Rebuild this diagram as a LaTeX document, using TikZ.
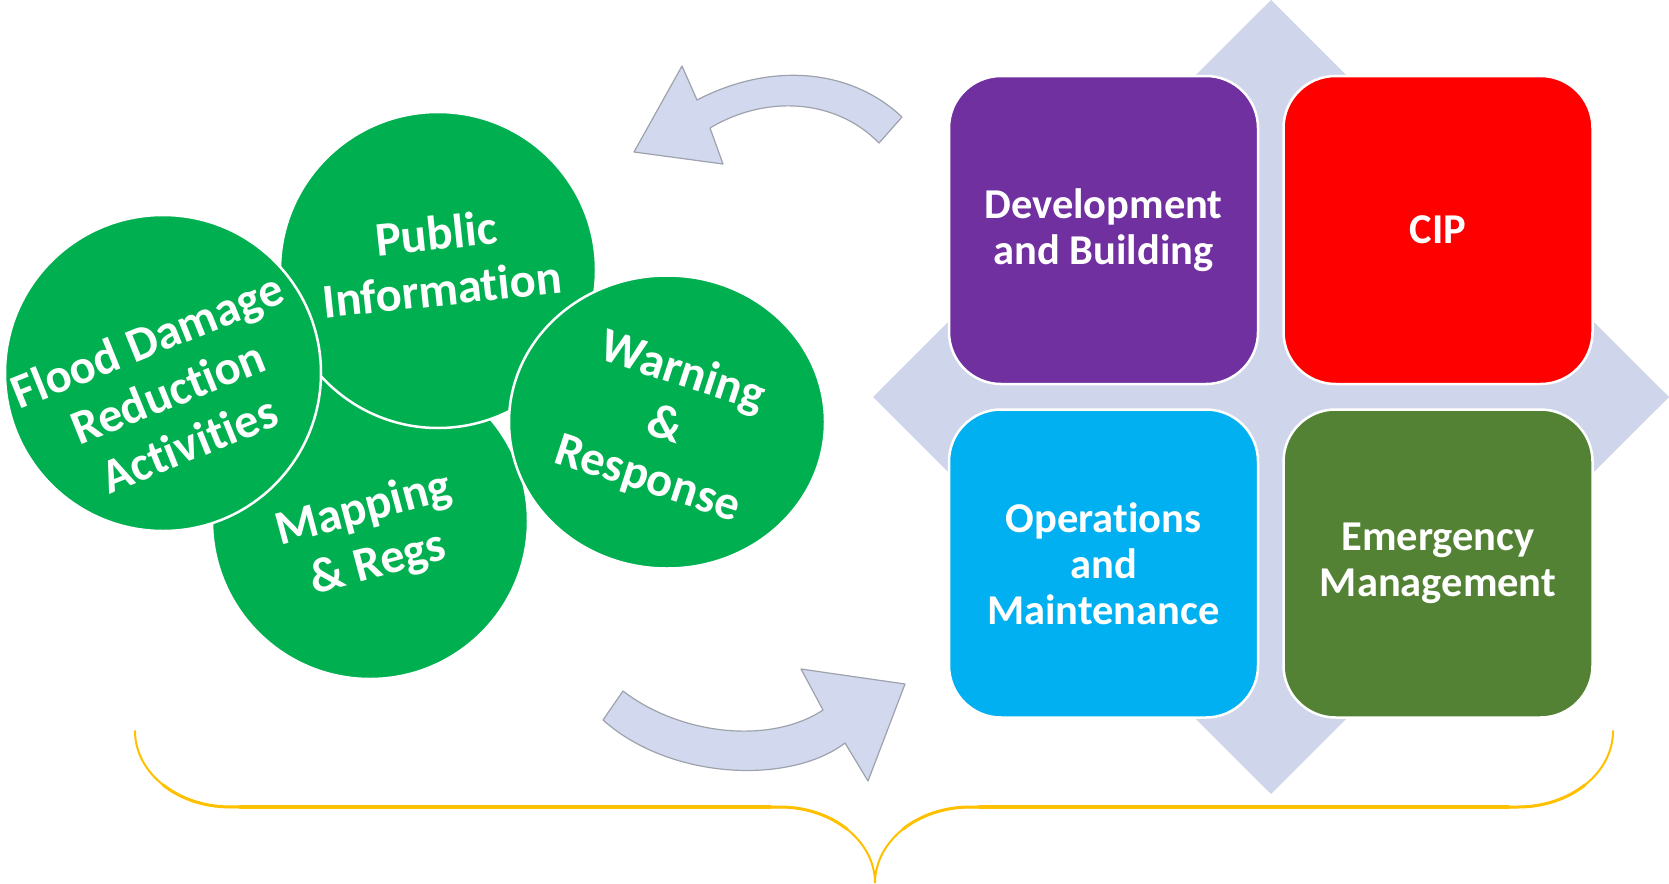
\documentclass[tikz,border=0pt]{standalone}
\usepackage{fontspec}
\setmainfont[Ligatures={NoCommon}]{Carlito}
\usetikzlibrary{shapes.geometric}
\definecolor{cgreen}{HTML}{00B050}
\definecolor{cpurple}{HTML}{7030A0}
\definecolor{cred}{HTML}{FF0000}
\definecolor{cblue}{HTML}{00B0F0}
\definecolor{egreen}{HTML}{548235}
\definecolor{gold}{HTML}{FFC000}
\definecolor{diamondc}{HTML}{CFD5EA}
\definecolor{arrowc}{HTML}{D2D9EE}
\definecolor{arrowline}{HTML}{9DA2AC}
\begin{document}
\begin{tikzpicture}[x=1pt,y=1pt,
  circ/.style={circle, fill=cgreen, draw=white, line width=2.5pt, minimum size=316pt, inner sep=0pt, outer sep=0pt},
  ctext/.style={text=white, font=\fontsize{48.5}{56}\selectfont\bfseries, align=center, inner sep=0pt},
  box/.style={draw=white, line width=2.5pt, rounded corners=52pt, minimum width=309pt, minimum height=308pt, inner sep=0pt, text=white, font=\fontsize{42.5}{46}\selectfont\bfseries, align=center},
  blockarrow/.style={fill=arrowc, draw=arrowline, line width=1.2pt, line join=round},
  brace/.style={draw=gold, line cap=round}
]
\useasboundingbox (0,0) rectangle (1669,-883);

% circles (left cluster)
\node[circ] (map) at (370,-521) {};
\node[ctext, rotate=15] (maptext) at (371,-537) {Mapping\\\& Regs};
\node[circ] (pub) at (438,-270) {};
\node[ctext, rotate=6] (pubtext) at (439,-261) {Public\\Information};
\node[circ] (flood) at (163,-373) {};
\node[ctext, rotate=22] (floodtext) at (168,-392) {Flood Damage\\Reduction\\Activities};
\node[ellipse, fill=cgreen, draw=white, line width=2.5pt, minimum width=316pt, minimum height=293pt, inner sep=0pt] (warn) at (667,-422) {};
\node[ctext, rotate=-18] (warntext) at (665,-426) {Warning\\\&\\Response};

% curved block arrows
\path[blockarrow] (634,-152) -- (682,-66) -- (697,-100)
  .. controls (770,-62) and (850,-68) .. (902,-117)
  -- (879,-143)
  .. controls (835,-98) and (765,-95) .. (710,-128)
  -- (723,-164) -- cycle;
\path[blockarrow] (623,-691)
  .. controls (680,-735) and (770,-745) .. (823,-710)
  -- (801,-669) -- (905,-684) -- (868,-781) -- (845,-743)
  .. controls (790,-785) and (670,-780) .. (603,-720) -- cycle;

% diamond background
\fill[diamondc] (1271,0) -- (1669,-397) -- (1271,-794) -- (873,-397) -- cycle;

% boxes
\node[box, fill=cpurple] (dev) at (1103.5,-230) {Development\\and Building};
\node[box, fill=cred] (cip) at (1438,-230) {CIP};
\node[box, fill=cblue] (ops) at (1103.5,-563.5) {Operations\\and\\Maintenance};
\node[box, fill=egreen] (em) at (1438,-563.5) {Emergency\\Management};

% brace (tapered by layered strokes)
\draw[brace, line width=2pt] (135,-731) arc[start angle=180, end angle=270, x radius=95, y radius=76]
  -- (780,-807) arc[start angle=90, end angle=0, x radius=95, y radius=76]
  arc[start angle=180, end angle=90, x radius=95, y radius=76]
  -- (1518,-807) arc[start angle=270, end angle=360, x radius=95, y radius=76];
\draw[brace, line width=3pt] (162.8,-784.7) arc[start angle=225, end angle=270, x radius=95, y radius=76]
  -- (780,-807) arc[start angle=90, end angle=45, x radius=95, y radius=76];
\draw[brace, line width=3pt] (902.8,-829.3) arc[start angle=135, end angle=90, x radius=95, y radius=76]
  -- (1518,-807) arc[start angle=270, end angle=315, x radius=95, y radius=76];
\draw[brace, line width=4pt] (240,-806.5) -- (770,-806.5);
\draw[brace, line width=4pt] (980,-806.5) -- (1508,-806.5);
\end{tikzpicture}
\end{document}
